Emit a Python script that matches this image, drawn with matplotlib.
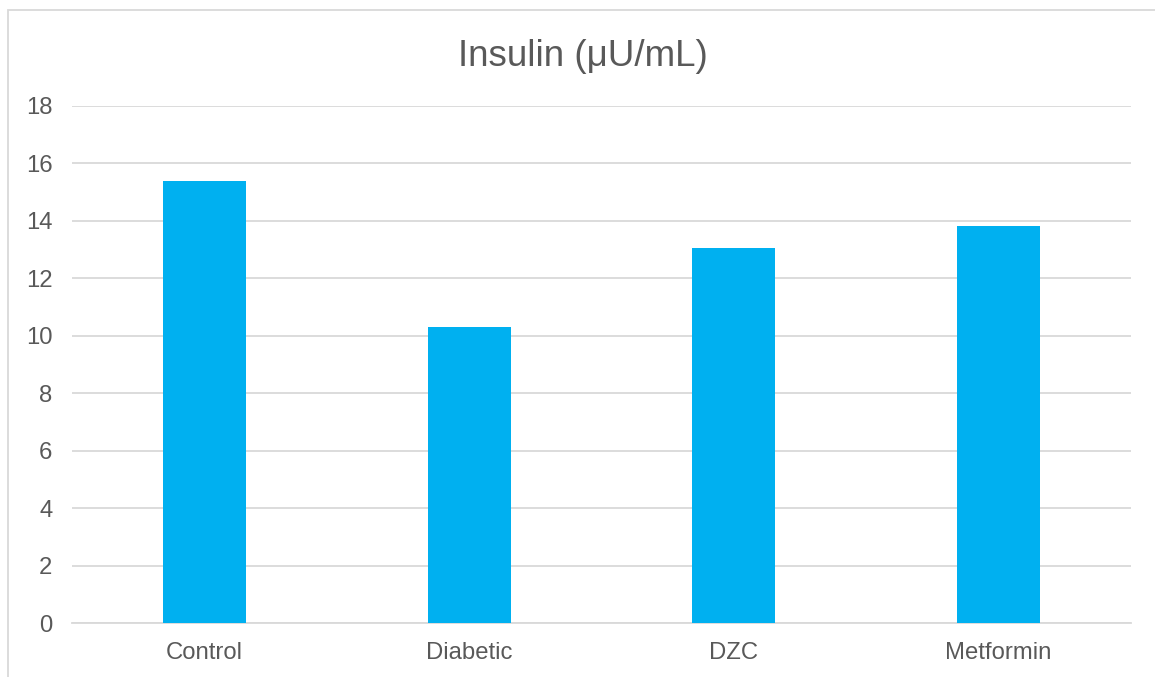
import matplotlib
matplotlib.use("Agg")
import matplotlib.pyplot as plt
from matplotlib.patches import Rectangle

categories = ["Control", "Diabetic", "DZC", "Metformin"]
values = [15.4, 10.3, 13.05, 13.82]
yticks = [0, 2, 4, 6, 8, 10, 12, 14, 16, 18]
title = "Insulin (μU/mL)"

W, H = 1155, 677
plt.rcParams['font.family'] = ['Liberation Sans', 'DejaVu Sans']
fig = plt.figure(figsize=(W / 100, H / 100), dpi=100)
fig.patch.set_facecolor("white")

# outer chart border
fig.patches.append(Rectangle((8 / W, -0.05), 1.2, 1 - 10 / H + 0.05,
                             transform=fig.transFigure, fill=False,
                             edgecolor="#D9D9D9", linewidth=1.3))

ax = fig.add_axes([72 / W, (H - 623) / H, (1131 - 72) / W, (623 - 106) / H])
x = list(range(len(categories)))
ax.bar(x, values, width=0.313, color="#00B0F0", zorder=3)
ax.set_xlim(-0.5, len(categories) - 0.5)
ax.set_ylim(0, 18)
ax.set_yticks(yticks)
ax.set_yticklabels([str(t) for t in yticks])
ax.set_xticks(x)
ax.set_xticklabels(categories)
ax.grid(axis="y", color="#D9D9D9", linewidth=1.3, zorder=0)
for s in ["top", "right", "left"]:
    ax.spines[s].set_visible(False)
ax.spines["bottom"].set_color("#D9D9D9")
ax.spines["bottom"].set_linewidth(1.3)
ax.tick_params(axis="both", length=0, labelsize=17.2, colors="#595959")
ax.tick_params(axis="y", pad=14)
ax.tick_params(axis="x", pad=14)
fig.text(583 / W, 1 - 56 / H, title, ha="center", va="center",
         fontsize=26.5, color="#595959")

fig.savefig("out.png", dpi=100)
